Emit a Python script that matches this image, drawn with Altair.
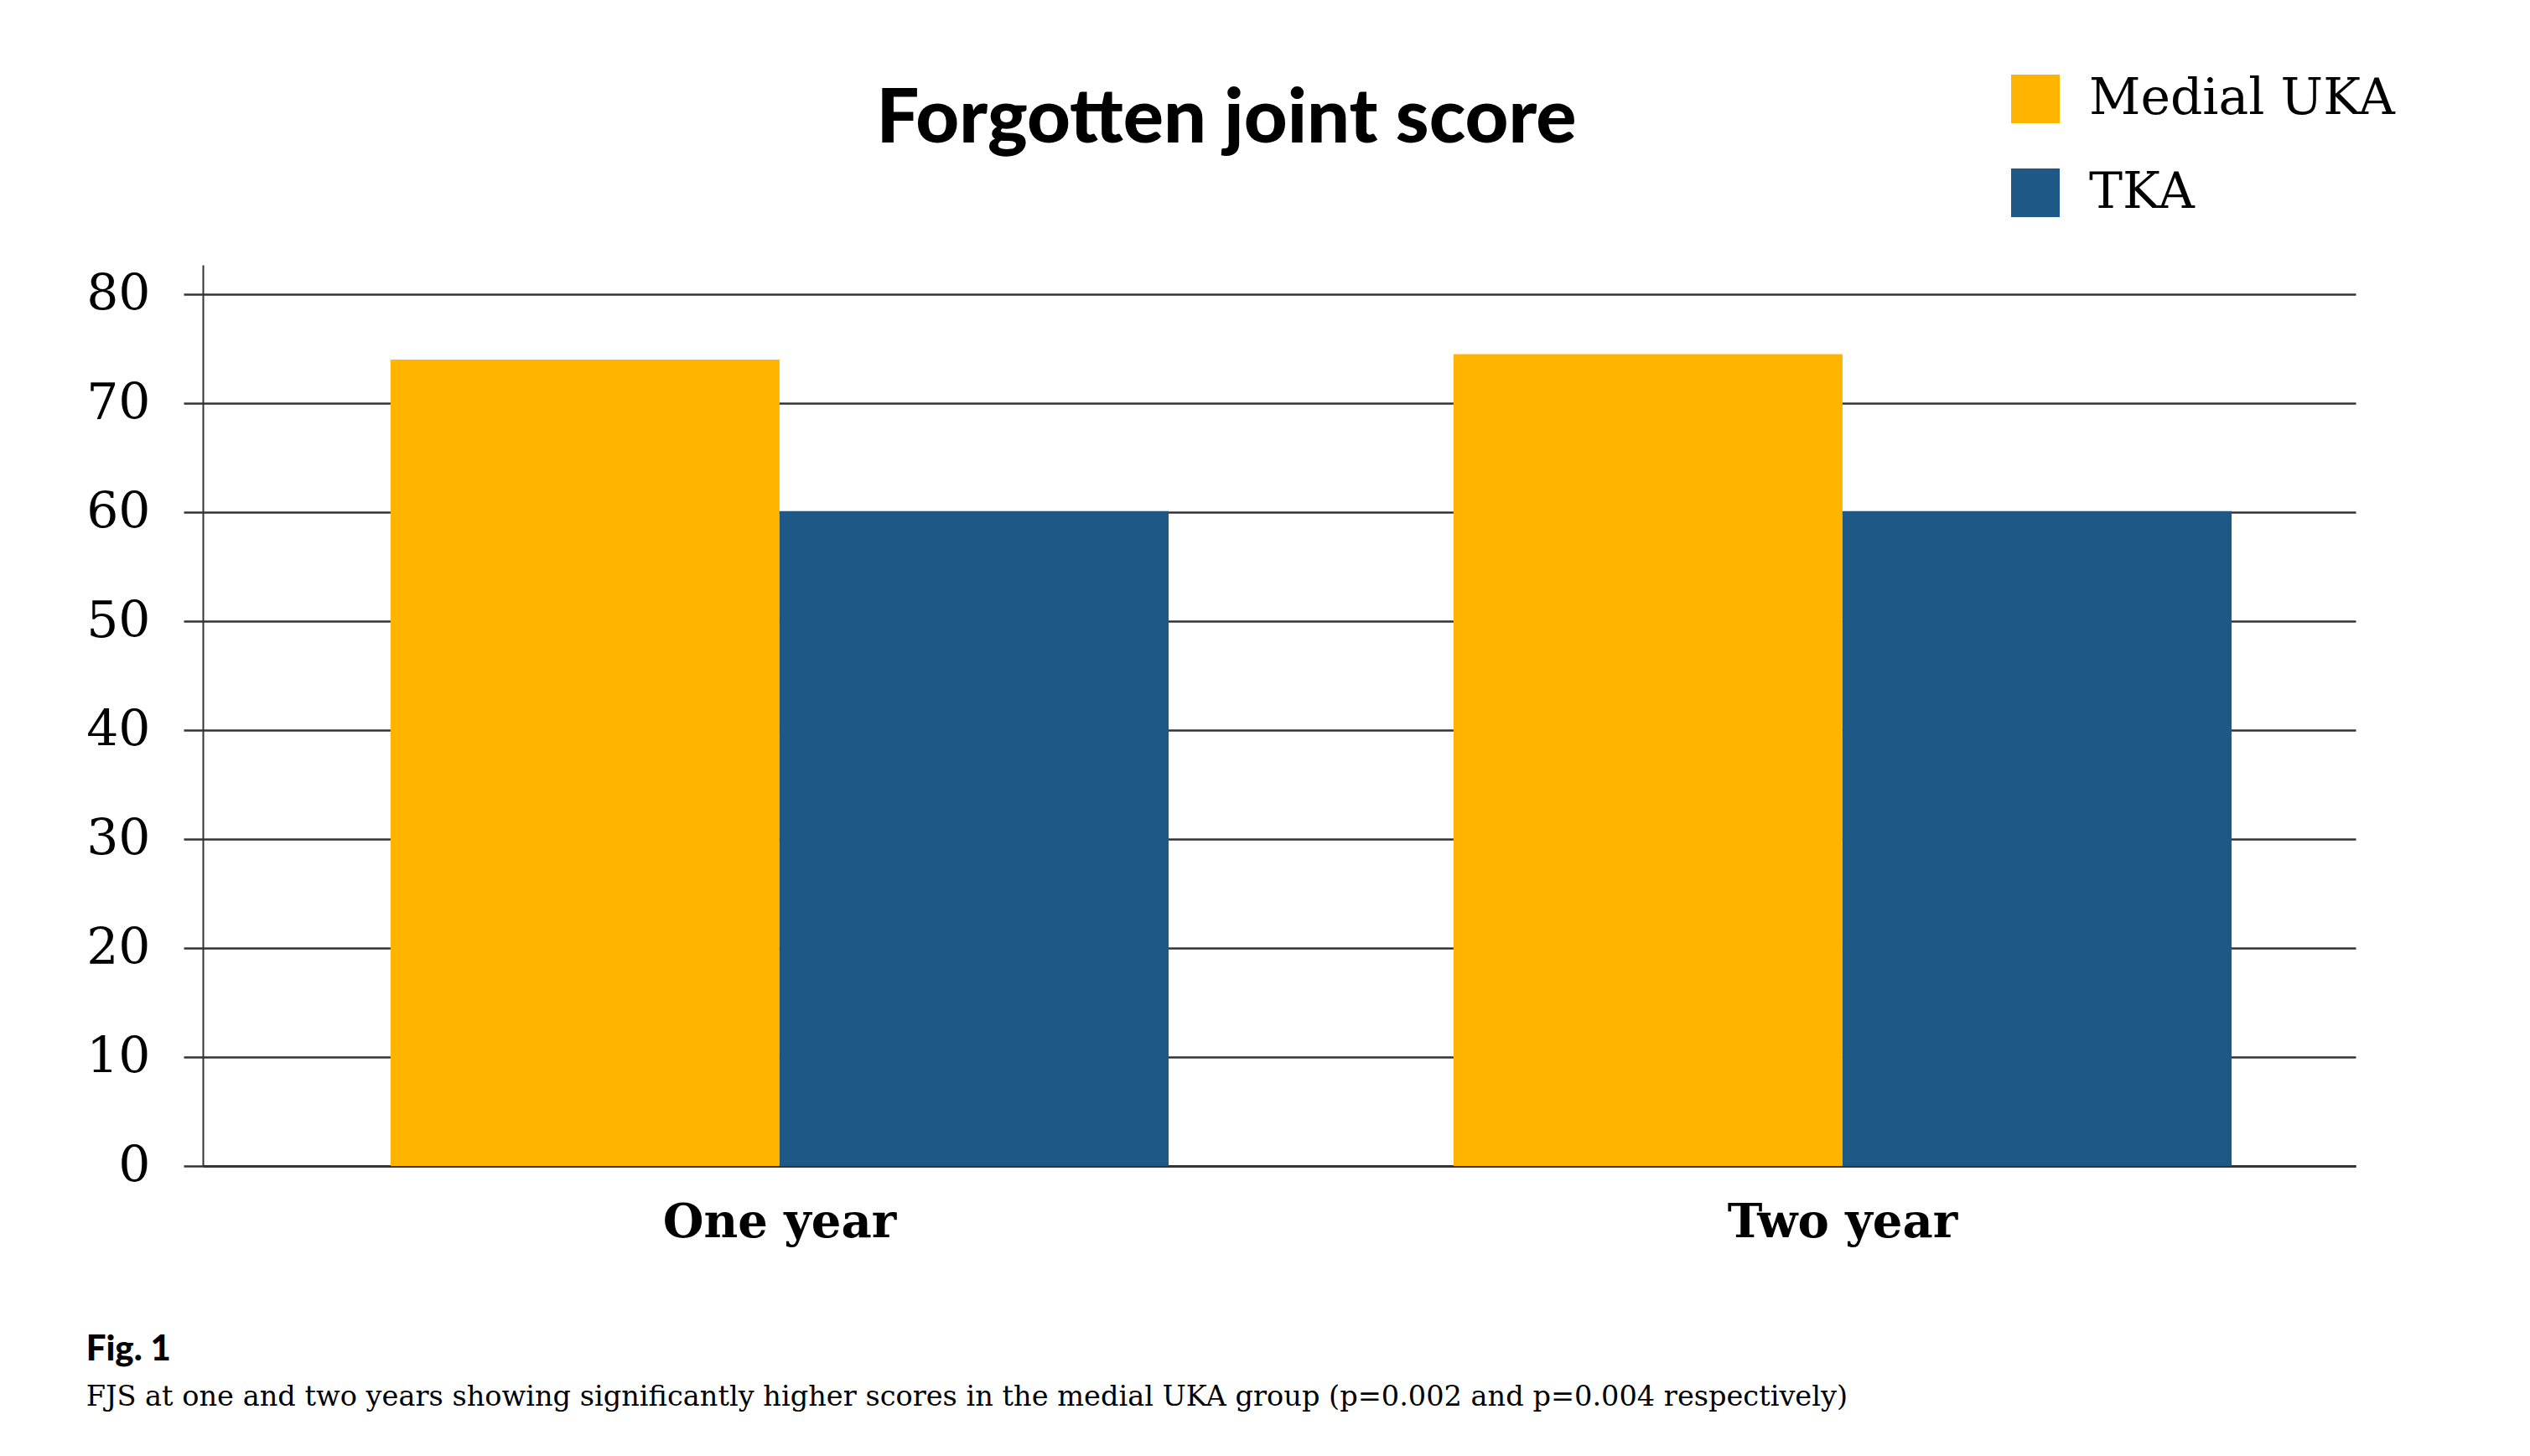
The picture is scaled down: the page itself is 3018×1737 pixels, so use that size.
import altair as alt
import pandas as pd

# ---- data ----
periods = ["One year", "One year", "Two year", "Two year"]
groups = ["Medial UKA", "TKA", "Medial UKA", "TKA"]
scores = [74.0, 60.1, 74.5, 60.1]

period_order = ["One year", "Two year"]
group_order = ["Medial UKA", "TKA"]
group_colors = ["#FFB400", "#1E5886"]
y_ticks = [0, 10, 20, 30, 40, 50, 60, 70, 80]

title_text = "Forgotten joint score"
fig_label = "Fig. 1"
caption = ("FJS at one and two years showing significantly higher scores in the "
           "medial UKA group (p=0.002 and p=0.004 respectively)")

df = pd.DataFrame({"period": periods, "group": groups, "score": scores})

GRID = "#333333"

main = (
    alt.Chart(df)
    .mark_bar()
    .encode(
        x=alt.X(
            "period:N",
            sort=period_order,
            scale=alt.Scale(paddingInner=0.268, paddingOuter=0.1466, align=0.602),
            axis=alt.Axis(
                title=None,
                labelAngle=0,
                labelFont="DejaVu Serif",
                labelFontWeight="bold",
                labelFontSize=56,
                labelColor="#000000",
                labelPadding=40,
                labelLimit=0,
                ticks=False,
                domain=True,
                domainColor=GRID,
                domainWidth=3,
                grid=False,
            ),
        ),
        xOffset=alt.XOffset(
            "group:N",
            sort=group_order,
            scale=alt.Scale(paddingInner=0, paddingOuter=0),
        ),
        y=alt.Y(
            "score:Q",
            scale=alt.Scale(domain=[0, 82.7], nice=False, zero=True),
            axis=alt.Axis(
                title=None,
                values=y_ticks,
                labelFont="DejaVu Serif",
                labelFontSize=60,
                labelColor="#000000",
                labelPadding=40,
                grid=True,
                gridColor=GRID,
                gridWidth=2.5,
                gridOpacity=1,
                ticks=True,
                tickSize=23,
                tickWidth=2.5,
                tickColor=GRID,
                domain=True,
                domainColor=GRID,
                domainWidth=2,
            ),
        ),
        color=alt.Color(
            "group:N",
            sort=group_order,
            scale=alt.Scale(domain=group_order, range=group_colors),
            legend=alt.Legend(
                title=None,
                orient="none",
                legendX=2156,
                legendY=-228,
                direction="vertical",
                symbolType="square",
                symbolSize=3364,
                symbolStrokeWidth=0,
                symbolOpacity=1,
                labelFont="DejaVu Serif",
                labelFontSize=60,
                labelColor="#000000",
                labelOffset=34,
                labelLimit=0,
                rowPadding=52,
                padding=0,
            ),
        ),
    )
    .properties(
        width=2568,
        height=1075,
        title=alt.TitleParams(
            text=title_text,
            font="Lato",
            fontWeight=900,
            fontSize=90,
            color="#000000",
            anchor="middle",
            dx=-63,
            offset=127,
        ),
    )
)

chart = (
    alt.vconcat(main)
    .properties(
        title=alt.TitleParams(
            text=fig_label,
            subtitle=caption,
            orient="bottom",
            anchor="start",
            frame="bounds",
            font="Lato",
            fontWeight=900,
            fontSize=42,
            color="#000000",
            subtitleFont="DejaVu Serif",
            subtitleFontSize=33.6,
            subtitleColor="#000000",
            subtitlePadding=18,
            offset=104,
        ),
        padding={"left": 94, "top": 80, "right": 20, "bottom": 20},
        background="#FFFFFF",
    )
    .configure_view(stroke=None)
)

chart.save("out.html", embed_options={"renderer": "svg", "actions": False})
